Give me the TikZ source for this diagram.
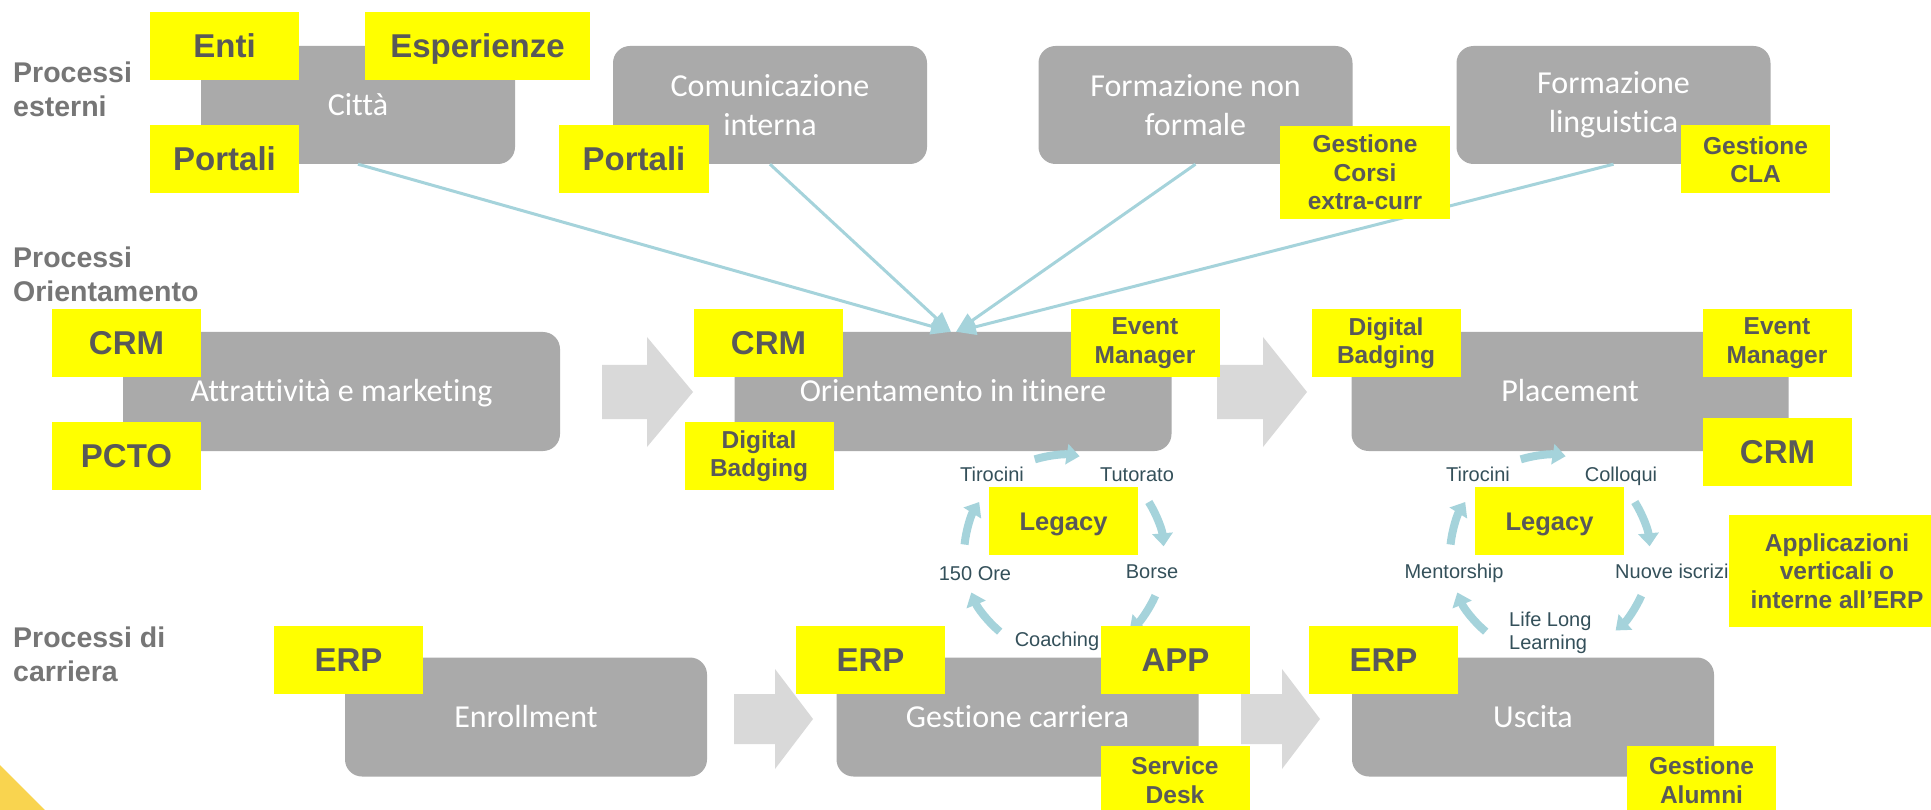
\documentclass[tikz,border=0pt]{standalone}
\usepackage{fontspec}
\setmainfont{Liberation Sans}
\newfontfamily\carlito[Ligatures=NoCommon]{Carlito}
\usetikzlibrary{arrows.meta,calc}
\definecolor{boxgray}{HTML}{AAAAAA}
\definecolor{arrowgray}{HTML}{D9D9D9}
\definecolor{labyellow}{HTML}{FFFF00}
\definecolor{labtext}{HTML}{595959}
\definecolor{cattext}{HTML}{767676}
\definecolor{cyctext}{HTML}{34505A}
\definecolor{linkblue}{HTML}{A5D3DB}
\definecolor{corneryellow}{HTML}{F9D44F}
\begin{document}
\begin{tikzpicture}[x=1pt,y=-1pt,
  gbox/.style={fill=boxgray, rounded corners=17pt, text=white, font=\carlito\fontsize{32}{39}\selectfont, align=center, inner sep=0pt},
  gone/.style={gbox, text height=20.6pt, text depth=0pt},
  gtop/.style={minimum width=314pt, minimum height=118pt},
  gmid/.style={minimum width=437pt, minimum height=119pt},
  gbot/.style={minimum width=362pt, minimum height=119pt},
  ylab/.style={fill=labyellow, text=labtext, font=\bfseries\fontsize{33}{38}\selectfont, align=center, inner sep=0pt, minimum width=149pt, minimum height=68pt, text height=23.6pt, text depth=0pt},
  ylabm/.style={fill=labyellow, text=labtext, font=\bfseries\fontsize{24.5}{28.5}\selectfont, align=center, inner sep=0pt, minimum width=149pt, minimum height=68pt},
  cat/.style={text=cattext, font=\bfseries\fontsize{28.5}{34}\selectfont, align=left, inner sep=0pt, anchor=north west},
  cyc/.style={text=cyctext, font=\fontsize{20}{22.5}\selectfont, inner sep=0pt, text height=14.3pt, text depth=0pt},
  cycm/.style={text=cyctext, font=\fontsize{20}{22.5}\selectfont, inner sep=0pt, align=left},
  conn/.style={draw=linkblue, line width=3pt, -{Triangle[length=20pt,width=16pt]}},
  carrow/.style={draw=linkblue, line width=8pt, line cap=butt, -{Triangle[length=13pt,width=20pt]}},
  blockarrow/.style={fill=arrowgray}
]
\useasboundingbox (0,0) rectangle (1931,810);
\fill[white] (0,0) rectangle (1931,810);

% gray process boxes
\node[gone, gtop] (citta) at (358,105) {Città};
\node[gbox, gtop] (comint) at (770,105) {Comunicazione\\interna};
\node[gbox, gtop] (formnf) at (1195.5,105) {Formazione non\\formale};
\node[gbox, gtop] (formling) at (1613.5,105) {Formazione\\linguistica};
\node[gone, gmid] (attr) at (341.5,391.5) {Attrattività e marketing};
\node[gone, gmid] (orient) at (953,391.5) {Orientamento in itinere};
\node[gone, gmid] (plac) at (1570,391.5) {Placement};
\node[gone, gbot] (enroll) at (526,717) {Enrollment};
\node[gone, gbot] (carriera) at (1017.5,717) {Gestione carriera};
\node[gone, gbot] (uscita) at (1533,717) {Uscita};

% block arrows
\fill[blockarrow] (602,365) -- (647,365) -- (647,337) -- (693,392) -- (647,447) -- (647,419) -- (602,419) -- cycle;
\fill[blockarrow] (1217,365) -- (1263,365) -- (1263,337) -- (1307,392) -- (1263,447) -- (1263,419) -- (1217,419) -- cycle;
\fill[blockarrow] (734,694) -- (775,694) -- (775,669) -- (813,719) -- (775,769) -- (775,744) -- (734,744) -- cycle;
\fill[blockarrow] (1241,694) -- (1282,694) -- (1282,669) -- (1320,719) -- (1282,769) -- (1282,744) -- (1241,744) -- cycle;

% connectors into Orientamento
\coordinate (tipL) at ($(orient.north)+(-2,0)$);
\coordinate (tipR) at ($(orient.north)+(3,0)$);
\draw[conn] (citta.south) -- (tipL);
\draw[conn] (comint.south) -- (tipL);
\draw[conn] (formnf.south) -- (tipR);
\draw[conn] (formling.south) -- (tipR);

% cycles
\coordinate (cyc1) at (1064,555);
\coordinate (cyc2) at (1550,555);
\foreach \cn in {cyc1,cyc2}{
  \foreach \a/\b in {-107/-81, -32/-5, 24/49, 130/158, 186/212}{
    \draw[carrow] ($(\cn)+(\a:100)$) arc[start angle=\a, end angle=\b, radius=100];
  }
}
\node[cyc] (t1) at (992,474) {Tirocini};
\node[cyc] (tut) at (1137,474) {Tutorato};
\node[cyc] (ore) at (975,573.5) {150 Ore};
\node[cyc] (borse) at (1152,571.5) {Borse};
\node[cyc] (coach) at (1057,639) {Coaching};
\node[cyc] (t2) at (1478,474) {Tirocini};
\node[cyc] (coll) at (1621,474) {Colloqui};
\node[cyc] (ment) at (1454,571) {Mentorship};
\node[cyc, anchor=west] (nuove) at (1615,571) {Nuove iscrizioni};
\node[cycm, anchor=west] (lll) at (1509,633) {Life Long\\Learning};

% yellow labels
\node[ylab] (enti) at (224.5,46) {Enti};
\node[ylab, minimum width=225pt] (esp) at (477.5,46) {Esperienze};
\node[ylab] (port1) at (224.5,159) {Portali};
\node[ylab, minimum width=150pt] (port2) at (634,159) {Portali};
\node[ylabm, minimum width=170pt, minimum height=93pt] (gcorsi) at (1365,172.5) {Gestione\\Corsi\\extra-curr};
\node[ylabm] (gcla) at (1755.5,159.5) {Gestione\\CLA};
\node[ylab] (crm1) at (126.5,343) {CRM};
\node[ylab] (pcto) at (126.5,455.5) {PCTO};
\node[ylab] (crm2) at (768.5,343) {CRM};
\node[ylabm] (ev1) at (1145,343) {Event\\Manager};
\node[ylabm] (db1) at (759,456) {Digital\\Badging};
\node[ylabm] (db2) at (1386,343) {Digital\\Badging};
\node[ylabm] (ev2) at (1777,343) {Event\\Manager};
\node[ylab] (crm3) at (1777.5,451.5) {CRM};
\node[ylabm, minimum width=216pt, minimum height=112pt] (appl) at (1837,571) {Applicazioni\\verticali o\\interne all’ERP};
\node[ylab, font=\bfseries\fontsize{25.5}{30}\selectfont, text height=18.3pt] (leg1) at (1063.5,521) {Legacy};
\node[ylab, font=\bfseries\fontsize{25.5}{30}\selectfont, text height=18.3pt] (leg2) at (1549.5,521) {Legacy};
\node[ylab] (erp1) at (348.5,660) {ERP};
\node[ylab] (erp2) at (870.5,660) {ERP};
\node[ylab] (app) at (1175.5,660) {APP};
\node[ylab] (erp3) at (1383.5,660) {ERP};
\node[ylabm] (sdesk) at (1175,780) {Service\\Desk};
\node[ylabm] (galum) at (1701.5,780) {Gestione\\Alumni};

% category labels
\node[cat] (catest) at (13,62) {Processi\\esterni};
\node[cat] (catori) at (13,247) {Processi\\Orientamento};
\node[cat] (catcar) at (13,627) {Processi di\\carriera};

% corner decoration
\fill[corneryellow] (0,765) -- (45,810) -- (0,810) -- cycle;
\end{tikzpicture}
\end{document}
